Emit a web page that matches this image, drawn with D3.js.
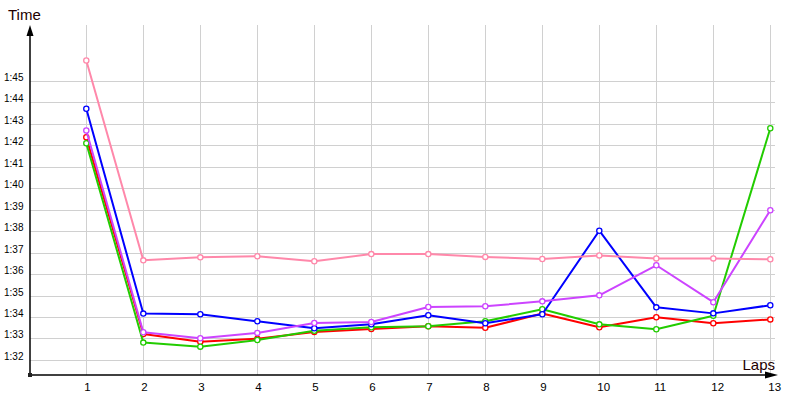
<!DOCTYPE html>
<html>
<head>
<meta charset="utf-8">
<script src="https://cdn.jsdelivr.net/npm/d3@7"></script>
<style>
  html, body { margin: 0; padding: 0; background: #fff; }
  svg { display: block; }
</style>
</head>
<body>
<svg id="chart" width="800" height="400"></svg>
<script>
// ---- data (lap times in seconds) ----
const laps = [1, 2, 3, 4, 5, 6, 7, 8, 9, 10, 11, 12, 13];
const redTimes    = [102.37, 93.21, 92.85, 92.99, 93.30, 93.44, 93.57, 93.50, 94.16, 93.52, 93.99, 93.71, 93.89];
const greenTimes  = [102.09, 92.81, 92.62, 92.93, 93.36, 93.52, 93.57, 93.80, 94.36, 93.66, 93.43, 94.06, 102.79];
const blueTimes   = [103.70, 94.16, 94.13, 93.80, 93.48, 93.66, 94.08, 93.71, 94.13, 98.02, 94.45, 94.17, 94.55];
const purpleTimes = [102.69, 93.29, 93.01, 93.26, 93.72, 93.77, 94.47, 94.50, 94.73, 95.01, 96.41, 94.69, 98.97];
const pinkTimes   = [105.95, 96.64, 96.78, 96.83, 96.60, 96.93, 96.93, 96.80, 96.70, 96.87, 96.73, 96.73, 96.69];
const yTickValues = [92, 93, 94, 95, 96, 97, 98, 99, 100, 101, 102, 103, 104, 105];
const yTickLabels = ["1:32", "1:33", "1:34", "1:35", "1:36", "1:37", "1:38", "1:39", "1:40", "1:41", "1:42", "1:43", "1:44", "1:45"];
const xTickLabels = ["1", "2", "3", "4", "5", "6", "7", "8", "9", "10", "11", "12", "13"];

const series = [
  { name: "red",    color: "#ff0000", values: redTimes },
  { name: "green",  color: "#22cc00", values: greenTimes },
  { name: "blue",   color: "#0000ff", values: blueTimes },
  { name: "purple", color: "#cc44ff", values: purpleTimes },
  { name: "pink",   color: "#ff88aa", values: pinkTimes }
];

// ---- layout ----
const svg = d3.select("#chart");
const x0 = 30, yAxisY = 375, plotTop = 25, gridRight = 775;

const x = d3.scaleLinear().domain([0, 13]).range([29.3, 770.3]);
const y = d3.scaleLinear().domain([91.3, 107.6]).range([375, 25]);

const grid = svg.append("g").attr("stroke", "#d0d0d0").attr("stroke-width", 1);
// vertical grid
grid.selectAll("line.v").data(laps).enter().append("line")
  .attr("x1", d => Math.round(x(d)) + 0.5).attr("x2", d => Math.round(x(d)) + 0.5)
  .attr("y1", plotTop).attr("y2", yAxisY);
// horizontal grid
grid.selectAll("line.h").data(yTickValues).enter().append("line")
  .attr("x1", x0).attr("x2", gridRight)
  .attr("y1", d => Math.round(y(d)) + 0.5).attr("y2", d => Math.round(y(d)) + 0.5);

// y tick labels
svg.append("g").selectAll("text").data(yTickValues).enter().append("text")
  .attr("x", 4).attr("y", d => Math.round(y(d)))
  .attr("font-family", "'Liberation Sans', Arial, sans-serif")
  .attr("font-size", "10px").attr("fill", "#000")
  .text((d, i) => yTickLabels[i]);

// x tick labels
svg.append("g").selectAll("text").data(laps).enter().append("text")
  .attr("x", d => x(d) - 2).attr("y", 391)
  .attr("font-family", "'Liberation Sans', Arial, sans-serif")
  .attr("font-size", "11.5px").attr("fill", "#000")
  .text((d, i) => xTickLabels[i]);

// axes
svg.append("line").attr("x1", x0).attr("x2", x0).attr("y1", yAxisY).attr("y2", 32)
  .attr("stroke", "#000").attr("stroke-width", 1.5);
svg.append("path").attr("d", `M${x0},25 L${x0 - 3.5},36 L${x0 + 3.5},36 Z`).attr("fill", "#000");
svg.append("line").attr("x1", x0).attr("x2", 770).attr("y1", yAxisY).attr("y2", yAxisY)
  .attr("stroke", "#000").attr("stroke-width", 1.5);
svg.append("path").attr("d", `M778,${yAxisY} L765,${yAxisY - 3.5} L765,${yAxisY + 3.5} Z`).attr("fill", "#000");
svg.append("rect").attr("x", x0 - 2).attr("y", yAxisY - 2).attr("width", 4).attr("height", 4).attr("fill", "#222");

// axis titles
svg.append("text").attr("x", 8).attr("y", 20)
  .attr("font-family", "'Liberation Sans', Arial, sans-serif").attr("font-size", "15px")
  .attr("fill", "#200").text("Time");
svg.append("text").attr("x", 775).attr("y", 370).attr("text-anchor", "end")
  .attr("font-family", "'Liberation Sans', Arial, sans-serif").attr("font-size", "15px")
  .attr("fill", "#200").text("Laps");

// series
const line = d3.line().x((d, i) => x(laps[i])).y(d => y(d));
series.forEach(s => {
  const g = svg.append("g");
  g.append("path").attr("d", line(s.values)).attr("fill", "none")
    .attr("stroke", s.color).attr("stroke-width", 2).attr("stroke-linejoin", "round");
  g.selectAll("circle").data(s.values).enter().append("circle")
    .attr("cx", (d, i) => x(laps[i])).attr("cy", d => y(d)).attr("r", 2.6)
    .attr("fill", "#fff").attr("stroke", s.color).attr("stroke-width", 1.3);
});
</script>
</body>
</html>
